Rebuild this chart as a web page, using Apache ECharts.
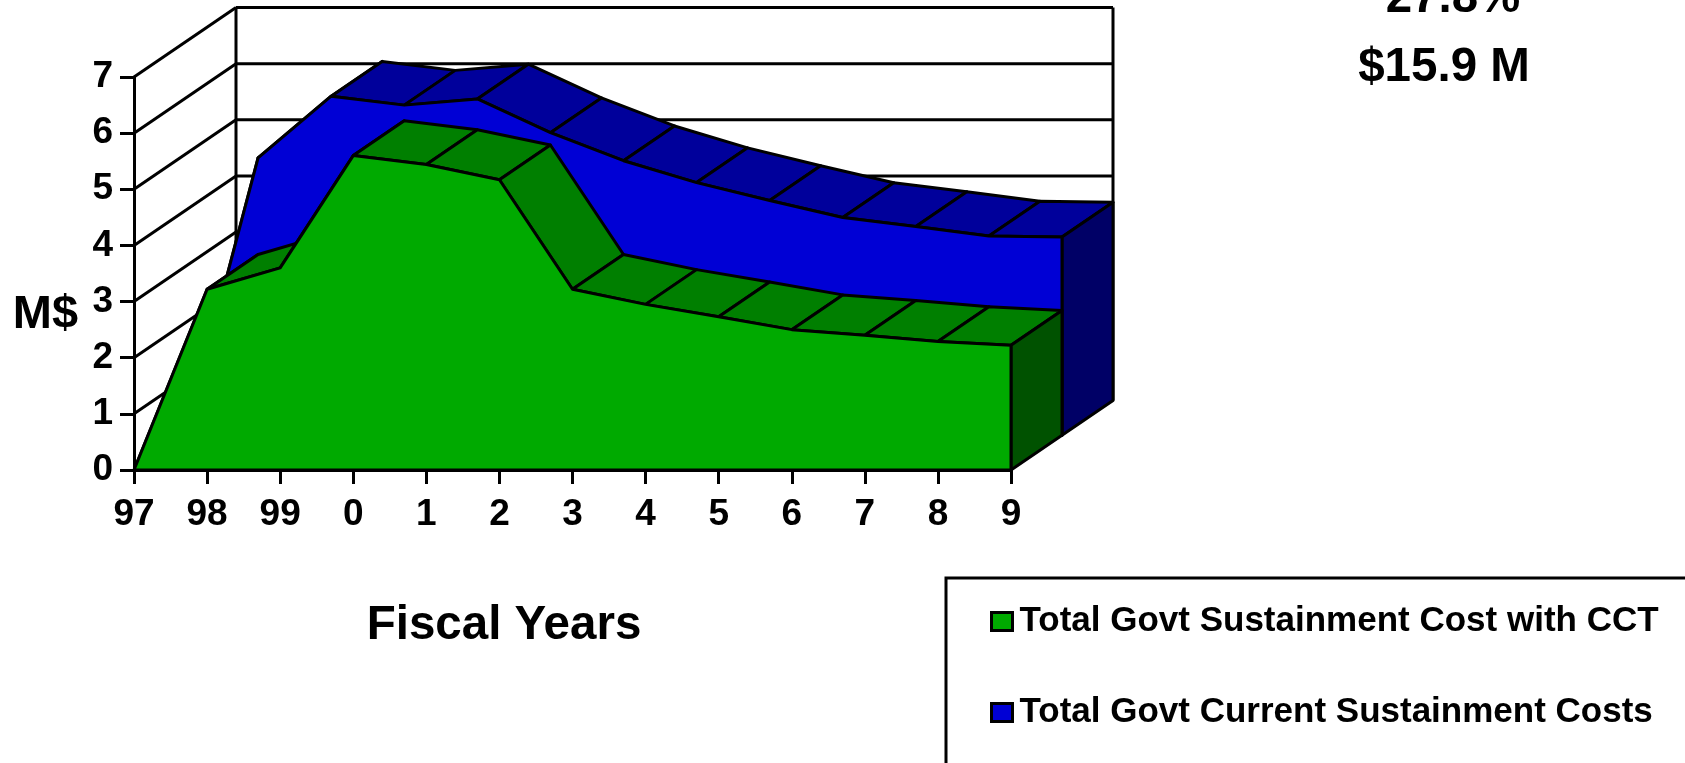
<!DOCTYPE html>
<html>
<head>
<meta charset="utf-8">
<title>Sustainment Costs</title>
<style>
  html, body { margin: 0; padding: 0; background: #fff; overflow: hidden; }
  #chart { width: 1685px; height: 763px; }
</style>
<script src="https://cdn.jsdelivr.net/npm/echarts@6/dist/echarts.min.js"></script>
</head>
<body>
<div id="chart"></div>
<script>
const categories = ['97', '98', '99', '0', '1', '2', '3', '4', '5', '6', '7', '8', '9'];
const yTicks = [0, 1, 2, 3, 4, 5, 6, 7];
const greenValues = [0, 3.22, 3.60, 5.60, 5.44, 5.17, 3.22, 2.95, 2.73, 2.50, 2.40, 2.29, 2.22];
const blueValues = [0, 4.94, 6.04, 5.88, 5.99, 5.39, 4.89, 4.50, 4.18, 3.88, 3.72, 3.55, 3.53];
const greenName = 'Total Govt Sustainment Cost with CCT';
const blueName = 'Total Govt Current Sustainment Costs';

const FONT = '"Liberation Sans", Arial, sans-serif';
// one slab of depth in pixels
const DX = 51;
const DY = -34.75;
const LINE = 3;

const chart = echarts.init(document.getElementById('chart'), null, { renderer: 'canvas' });

const at = (api, i, v, depth) => {
  const p = api.coord([i, v]);
  return [p[0] + DX * depth, p[1] + DY * depth];
};

const poly = (points, fill) => ({
  type: 'polygon',
  shape: { points },
  style: { fill, stroke: '#000', lineWidth: LINE, lineJoin: 'round' },
});

/* back wall and left wall */
const renderWall = (params, api) => {
  const v = api.value(0);
  const last = categories.length - 1;
  const front = at(api, 0, v, 0);
  const back = at(api, 0, v, 2);
  const right = at(api, last, v, 2);
  const children = [
    { type: 'line', shape: { x1: front[0], y1: front[1], x2: back[0], y2: back[1] }, style: { stroke: '#000', lineWidth: LINE } },
    { type: 'line', shape: { x1: back[0], y1: back[1], x2: right[0], y2: right[1] }, style: { stroke: '#000', lineWidth: LINE } },
  ];
  if (v === yTicks[yTicks.length - 1]) {
    const backBottom = at(api, 0, 0, 2);
    const rightBottom = at(api, last, 0, 2);
    children.push(
      { type: 'line', shape: { x1: back[0], y1: back[1], x2: backBottom[0], y2: backBottom[1] }, style: { stroke: '#000', lineWidth: LINE } },
      { type: 'line', shape: { x1: right[0], y1: right[1], x2: rightBottom[0], y2: rightBottom[1] }, style: { stroke: '#000', lineWidth: LINE } }
    );
  }
  return { type: 'group', children };
};

/* 3d slab: top faces first, then end face and front face on the last item */
const slabSeries = (name, values, depth, colors) => ({
  name,
  type: 'custom',
  coordinateSystem: 'cartesian2d',
  itemStyle: { color: colors.front },
  data: values.map((v, i) => [i, v]),
  encode: { x: 0, y: 1 },
  renderItem: (params, api) => {
    const i = params.dataIndex;
    const last = values.length - 1;
    const children = [];
    if (i < last) {
      children.push(poly([
        at(api, i, values[i], depth),
        at(api, i + 1, values[i + 1], depth),
        at(api, i + 1, values[i + 1], depth + 1),
        at(api, i, values[i], depth + 1),
      ], colors.top));
    } else {
      children.push(poly([
        at(api, last, values[last], depth),
        at(api, last, values[last], depth + 1),
        at(api, last, 0, depth + 1),
        at(api, last, 0, depth),
      ], colors.side));
      const outline = values.map((v, k) => at(api, k, v, depth));
      outline.push(at(api, last, 0, depth));
      children.push(poly(outline, colors.front));
    }
    return { type: 'group', children };
  },
});

const bigText = (text, x, y, size) => ({
  type: 'text',
  x,
  y,
  style: {
    text,
    fontFamily: FONT,
    fontWeight: 'bold',
    fontSize: size,
    fill: '#000',
    align: 'center',
    verticalAlign: 'middle',
  },
});

chart.setOption({
  animation: false,
  backgroundColor: '#fff',
  grid: { left: 134, top: 77, width: 877, height: 393, containLabel: false },
  legend: {
    left: 990,
    top: 604,
    orient: 'vertical',
    itemWidth: 21,
    itemHeight: 18,
    itemGap: 56,
    padding: 0,
    selectedMode: false,
    data: [
      { name: greenName, icon: 'rect', itemStyle: { color: '#00aa00', borderColor: '#000', borderWidth: 3 } },
      { name: blueName, icon: 'rect', itemStyle: { color: '#0000d5', borderColor: '#000', borderWidth: 3 } },
    ],
    textStyle: {
      fontFamily: FONT,
      fontWeight: 'bold',
      fontSize: 35,
      color: '#000',
      padding: [10, 0, 0, 2],
    },
  },
  xAxis: {
    type: 'category',
    data: categories,
    boundaryGap: false,
    axisLine: { lineStyle: { color: '#000', width: 3 } },
    axisTick: { alignWithLabel: true, length: 14, lineStyle: { color: '#000', width: 3 } },
    axisLabel: { color: '#000', fontFamily: FONT, fontWeight: 'bold', fontSize: 37, margin: 26, interval: 0 },
    splitLine: { show: false },
  },
  yAxis: {
    type: 'value',
    min: 0,
    max: 7,
    interval: 1,
    axisLine: { show: true, lineStyle: { color: '#000', width: 3 } },
    axisTick: { show: true, length: 14, lineStyle: { color: '#000', width: 3 } },
    axisLabel: { color: '#000', fontFamily: FONT, fontWeight: 'bold', fontSize: 37, margin: 21 },
    splitLine: { show: false },
  },
  graphic: [
    bigText('M$', 45.5, 315, 47),
    bigText('Fiscal Years', 504, 626, 47.5),
    bigText('27.8%', 1453, -1, 47.5),
    bigText('$15.9 M', 1444, 68, 47.5),
    {
      type: 'rect',
      shape: { x: 946, y: 578, width: 1000, height: 500 },
      style: { fill: 'none', stroke: '#000', lineWidth: 3 },
    },
  ],
  series: [
    {
      type: 'custom',
      coordinateSystem: 'cartesian2d',
      data: yTicks.map(v => [v]),
      encode: { y: 0 },
      renderItem: renderWall,
      silent: true,
    },
    slabSeries(blueName, blueValues, 1, { front: '#0000d5', top: '#00009b', side: '#000066' }),
    slabSeries(greenName, greenValues, 0, { front: '#00aa00', top: '#007f00', side: '#005200' }),
  ],
});
</script>
</body>
</html>
